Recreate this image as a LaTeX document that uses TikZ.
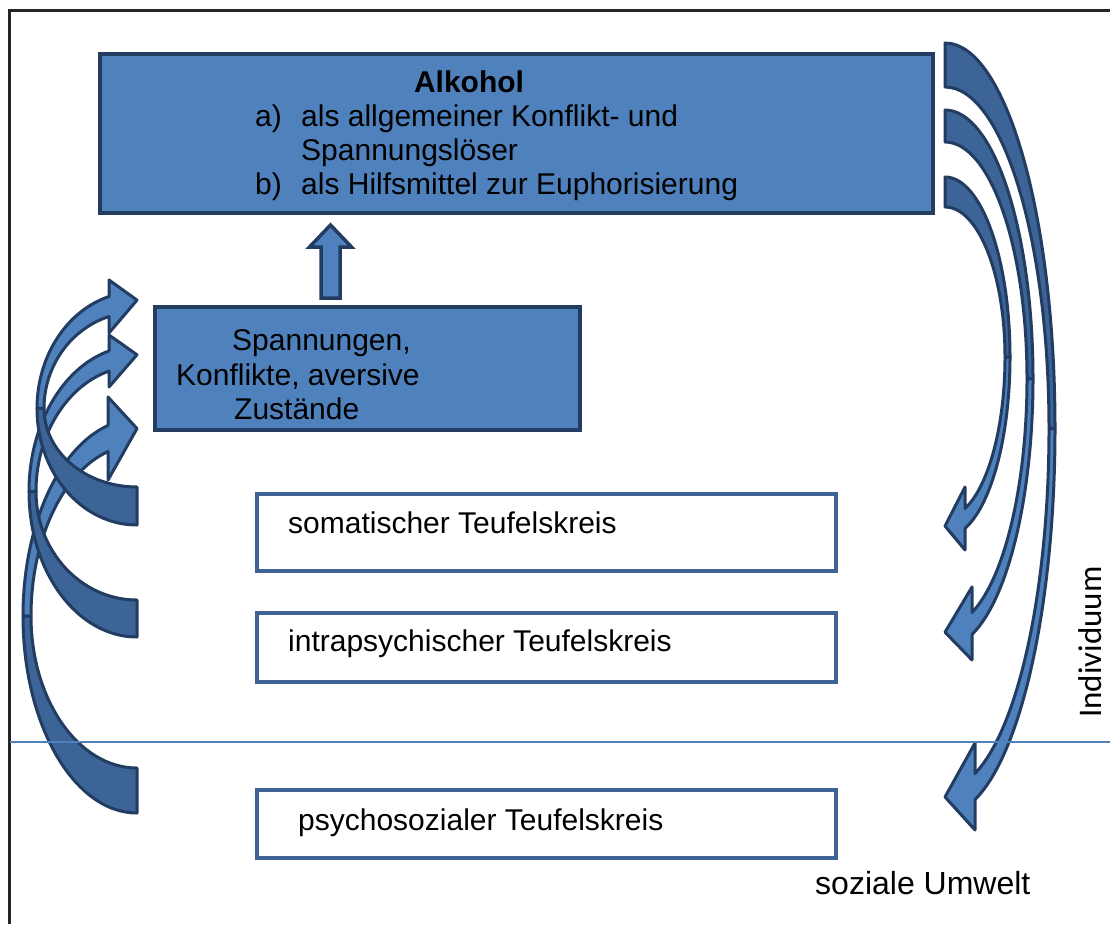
\documentclass[tikz,border=0pt]{standalone}
\usepackage{fontspec}
\setmainfont{Liberation Sans}
\newfontfamily\calfont{Carlito}
\usetikzlibrary{calc}
\definecolor{fillblue}{RGB}{79,129,189}
\definecolor{backblue}{RGB}{60,100,150}
\definecolor{navy}{RGB}{34,60,98}
\definecolor{boxline}{RGB}{62,99,148}
\tikzset{
  bluebox/.style={draw=navy, fill=fillblue, line width=4pt, inner sep=0pt, rectangle},
  whitebox/.style={draw=boxline, fill=white, line width=4.5pt, inner sep=0pt, rectangle},
  txt/.style={inner sep=0pt, anchor=base west, font=\fontsize{30}{34}\selectfont},
  arrband/.style={fill=fillblue, draw=navy, line width=3pt, line join=round},
  arrback/.style={fill=backblue, draw=navy, line width=3pt, line join=round},
  upfill/.style={fill=fillblue, draw=navy, line width=3.5pt, line join=miter},
  frameline/.style={draw=black!85, line width=2.5pt},
  sepline/.style={draw=fillblue, line width=1.5pt},
}
% #1 cx, #2 cy, #3 a, #4 b, #5 tail thickness, #6 band width, #7 head length, #8 rotation, #9 pinch width
% \caH : head height (set before call)
\newcommand{\CurvArr}[9]{%
  \begin{scope}[shift={(#1,#2)}, rotate=#8]
    \pgfmathsetmacro\caTo{acos(#7/#3)}
    \pgfmathsetmacro\caTi{acos(#7/(#3-#9))}
    \pgfmathsetmacro\caYo{#4*sin(\caTo)}
    \pgfmathsetmacro\caYi{(#4-#6)*sin(\caTi)}
    \pgfmathsetmacro\caYc{(\caYo+\caYi)/2}
    \pgfmathsetmacro\caAi{#3-#9}
    \pgfmathsetmacro\caBi{#4-#6}
    \pgfmathsetmacro\caBc{#4-#5}
    \filldraw[arrband] (#3,0) arc[start angle=0, end angle=\caTo, x radius=#3, y radius=#4]
      -- (#7,\caYc+\caH/2) -- (0,\caYc+0.12*\caH) -- (#7,\caYc-\caH/2) -- (#7,\caYi)
      arc[start angle=\caTi, end angle=0, x radius=\caAi, y radius=\caBi] -- cycle;
    \filldraw[arrback] (0,-#4) arc[start angle=-90, end angle=0, x radius=#3, y radius=#4]
      -- (\caAi,0) arc[start angle=0, end angle=-90, x radius=\caAi, y radius=\caBc] -- cycle;
  \end{scope}}
\begin{document}
\begin{tikzpicture}[x=1pt, y=-1pt]
\useasboundingbox (0,0) rectangle (1110,924);
% frame
\draw[frameline] (9.5,924) -- (9.5,10.5) -- (1110,10.5);

% boxes
\node[bluebox, minimum width=833pt, minimum height=159pt] (alk) at (516.5,133.5) {};
\node[bluebox, minimum width=425pt, minimum height=123pt] (span) at (367.5,368.5) {};
\node[whitebox, minimum width=579pt, minimum height=77pt] (som) at (546.5,532.5) {};
\node[whitebox, minimum width=579pt, minimum height=69pt] (intra) at (546.5,647.5) {};
\node[whitebox, minimum width=579pt, minimum height=68pt] (psy) at (546.5,824) {};

% texts
\node[txt, anchor=base, font=\fontsize{30}{34}\selectfont\bfseries] (talk) at (469,92) {Alkohol};
\node[txt] (ta) at (255,126) {a)};
\node[txt] (ta2) at (301,126) {als allgemeiner Konflikt- und};
\node[txt] (ta3) at (301,160) {Spannungslöser};
\node[txt] (tb) at (255,194) {b)};
\node[txt] (tb2) at (301,194) {als Hilfsmittel zur Euphorisierung};
\node[txt] (ts1) at (232,350) {Spannungen,};
\node[txt] (ts2) at (176,385) {Konflikte, aversive};
\node[txt] (ts3) at (234,419) {Zustände};
\node[txt] (tsom) at (288,533) {somatischer Teufelskreis};
\node[txt] (tintra) at (288,651) {intrapsychischer Teufelskreis};
\node[txt] (tpsy) at (298,830) {psychosozialer Teufelskreis};
\node[txt, font=\fontsize{32}{36}\selectfont] (tsoz) at (815,894) {soziale Umwelt};
\node[inner sep=0pt, rotate=90, font=\calfont\fontsize{33}{38}\selectfont] (tind) at (1090,642) {Individuum};

% up block arrow from span to alk
\coordinate (ubot) at (330.5,298);
\coordinate (utip) at (330.5,225);
\filldraw[upfill] ($(ubot)+(-9.5,0)$) -- ($(utip)+(-9.5,22)$) -- ($(utip)+(-21,22)$) -- (utip)
  -- ($(utip)+(21,22)$) -- ($(utip)+(9.5,22)$) -- ($(ubot)+(9.5,0)$) -- cycle;

% right curved arrows
\def\caH{87}\CurvArr{945}{428.6}{110}{385.6}{44}{25.4}{30}{0}{6}
\def\caH{73}\CurvArr{945}{378.7}{88}{268.7}{32}{21.1}{27}{0}{6}
\def\caH{63}\CurvArr{945}{357.1}{65}{180.1}{30}{19.5}{20}{0}{5}

% left curved arrows
\def\caH{83}\CurvArr{137}{616.0}{114}{197.0}{45}{26}{29}{180}{8}
\def\caH{52}\CurvArr{137}{491.5}{108}{145.5}{37}{20.1}{28}{180}{7}
\def\caH{53}\CurvArr{137}{408.4}{100}{116.6}{38}{20.2}{28}{180}{7}

% separator line
\draw[sepline] (10,742) -- (1110,742);
\end{tikzpicture}
\end{document}
